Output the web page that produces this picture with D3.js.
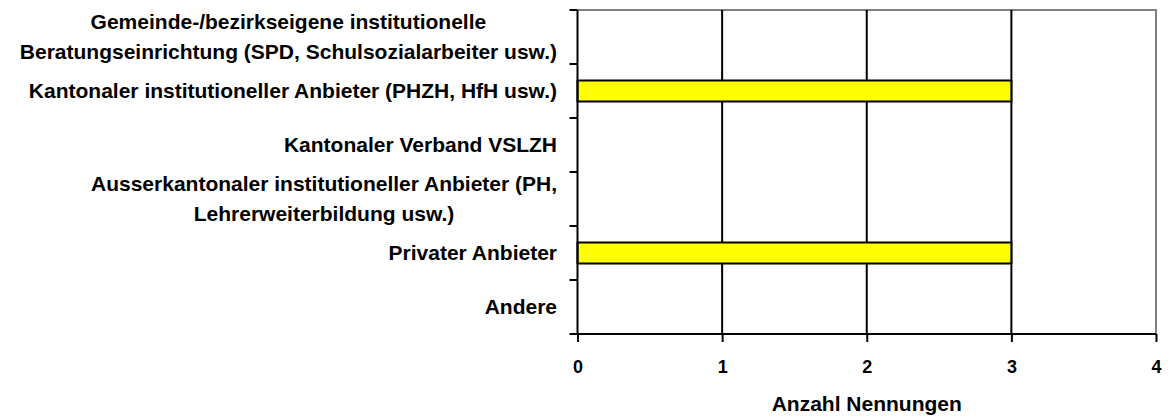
<!DOCTYPE html>
<html>
<head>
<meta charset="utf-8">
<script src="https://cdn.jsdelivr.net/npm/d3@7"></script>
<style>
	body { margin: 0; background: #fff; }
	text { font-family: "Liberation Sans", Arial, sans-serif; font-weight: bold; fill: #000; }
</style>
</head>
<body>
<svg id="chart" width="1170" height="416"></svg>
<script>
(function() {
	'use strict';

	// data
	var categories = [
		['Gemeinde-/bezirkseigene institutionelle', 'Beratungseinrichtung (SPD, Schulsozialarbeiter usw.)'],
		['Kantonaler institutioneller Anbieter (PHZH, HfH usw.)'],
		['Kantonaler Verband VSLZH'],
		['Ausserkantonaler institutioneller Anbieter (PH,', 'Lehrerweiterbildung usw.)'],
		['Privater Anbieter'],
		['Andere']
	];
	var values = [0, 3, 0, 0, 3, 0];
	var xTicks = [0, 1, 2, 3, 4];
	var xTitle = 'Anzahl Nennungen';

	var svg = d3.select('#chart');
	var left = 577.5, right = 1156, top = 10, bottom = 334;

	var x = d3.scaleLinear().domain([0, 4]).range([left, right]);
	var y = d3.scaleBand().domain(d3.range(categories.length)).range([top, bottom]);

	// frame top/right (grey)
	svg.append('path')
		.attr('d', 'M' + left + ',' + top + 'H' + right + 'V' + bottom)
		.attr('fill', 'none')
		.attr('stroke', '#808080')
		.attr('stroke-width', 2);

	// gridlines
	svg.append('g').selectAll('line')
		.data(xTicks.slice(1, -1))
		.enter().append('line')
		.attr('x1', function(d) { return x(d); })
		.attr('x2', function(d) { return x(d); })
		.attr('y1', top).attr('y2', bottom)
		.attr('stroke', '#000').attr('stroke-width', 2);

	// bars
	var barH = 21;
	var bars = svg.append('g');
	values.forEach(function(v, i) {
		if (v <= 0) return;
		bars.append('rect')
			.attr('x', x(0))
			.attr('y', y(i) + y.bandwidth() / 2 - barH / 2)
			.attr('width', x(v) - x(0))
			.attr('height', barH)
			.attr('fill', '#ffff00')
			.attr('stroke', '#000')
			.attr('stroke-width', 2);
	});

	// x axis
	var xAxis = d3.axisBottom(x).tickValues(xTicks).tickSize(8).tickPadding(18).tickFormat(d3.format('d'));
	var gx = svg.append('g').attr('transform', 'translate(0,' + bottom + ')').call(xAxis);
	gx.select('.domain').attr('stroke', '#000').attr('stroke-width', 2).attr('d', 'M' + left + ',0H' + right);
	gx.selectAll('.tick line').attr('stroke', '#000').attr('stroke-width', 2);
	gx.selectAll('.tick text').attr('font-size', 18).attr('font-family', null);

	// y axis (ticks at band edges)
	var edges = d3.range(categories.length + 1).map(function(i) { return top + i * y.step(); });
	var gy = svg.append('g');
	gy.append('line').attr('x1', left).attr('x2', left).attr('y1', top).attr('y2', bottom)
		.attr('stroke', '#000').attr('stroke-width', 2);
	gy.selectAll('.tk').data(edges).enter().append('line')
		.attr('x1', left - 8).attr('x2', left)
		.attr('y1', function(d) { return d; }).attr('y2', function(d) { return d; })
		.attr('stroke', '#000').attr('stroke-width', 2);

	// category labels
	var lineGap = 30;
	var labelRight = 557;
	categories.forEach(function(lines, i) {
		var cy = y(i) + y.bandwidth() / 2;
		var g = svg.append('g');
		var texts = lines.map(function(l, j) {
			return g.append('text')
				.attr('font-size', 21)
				.attr('text-anchor', 'middle')
				.attr('dy', '0.35em')
				.attr('y', cy + (j - (lines.length - 1) / 2) * lineGap)
				.text(l);
		});
		var w = d3.max(texts, function(t) { return t.node().getComputedTextLength(); });
		texts.forEach(function(t) { t.attr('x', labelRight - w / 2); });
	});

	// axis title
	svg.append('text')
		.attr('x', (left + right) / 2)
		.attr('y', 404)
		.attr('text-anchor', 'middle')
		.attr('dy', '0.35em')
		.attr('font-size', 21)
		.text(xTitle);
})();
</script>
</body>
</html>
